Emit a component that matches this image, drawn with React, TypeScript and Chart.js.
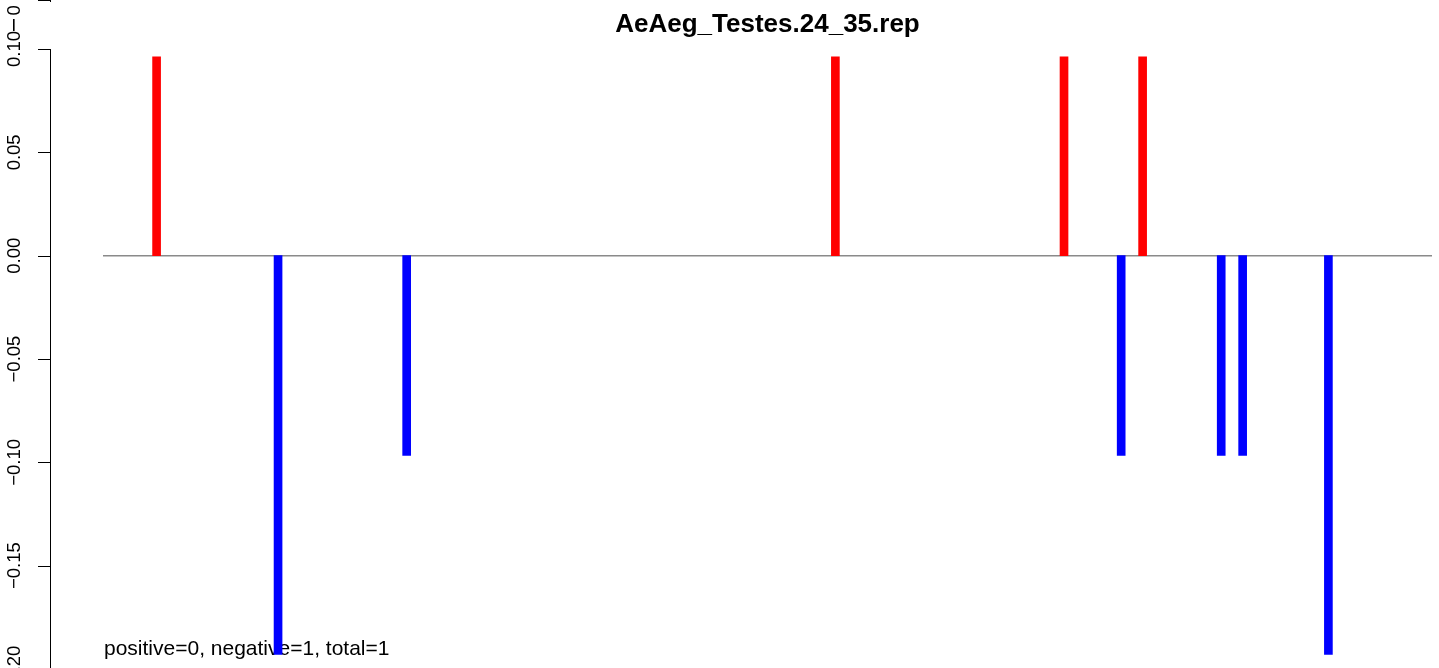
import React, { useEffect, useRef } from "react";
import { Chart, registerables } from "chart.js";

Chart.register(...registerables);

const TITLE = "AeAeg_Testes.24_35.rep";
const NOTE = "positive=0, negative=1, total=1";
const positions = [8, 25, 43, 103, 135, 143, 146, 157, 160, 172];
const values = [0.0962, -0.1929, -0.0966, 0.0962, 0.0962, -0.0966, 0.0962, -0.0966, -0.0966, -0.1929];
const yTicks = [0.1, 0.05, 0, -0.05, -0.1, -0.15, -0.2];
const yTickLabels = ["0.10", "0.05", "0.00", "\u22120.05", "\u22120.10", "\u22120.15", "\u22120.20"];

const FONT = "'Liberation Sans', Arial, Helvetica, sans-serif";

const decorPlugin = {
  id: "decor",
  beforeDatasetsDraw(chart: any) {
    const ctx = chart.ctx;
    const area = chart.chartArea;
    const y = chart.scales.y;
    const y0 = y.getPixelForValue(0);
    ctx.save();
    ctx.strokeStyle = "#8a8a8a";
    ctx.lineWidth = 1.5;
    ctx.beginPath();
    ctx.moveTo(area.left, y0);
    ctx.lineTo(area.right, y0);
    ctx.stroke();
    ctx.fillStyle = "#000";
    ctx.font = `21px ${FONT}`;
    ctx.textAlign = "left";
    ctx.textBaseline = "alphabetic";
    ctx.fillText(NOTE, 104, 655);
    ctx.restore();
  },
  afterDraw(chart: any) {
    const ctx = chart.ctx;
    const area = chart.chartArea;
    const y = chart.scales.y;
    ctx.save();
    ctx.fillStyle = "#000";
    ctx.font = `bold 26px ${FONT}`;
    ctx.textAlign = "center";
    ctx.textBaseline = "alphabetic";
    ctx.fillText(TITLE, (area.left + area.right) / 2, 32);

    const axX = 50.5;
    const top = y.getPixelForValue(yTicks[0]);
    const bot = y.getPixelForValue(yTicks[yTicks.length - 1]);
    ctx.strokeStyle = "#000";
    ctx.lineWidth = 1;
    ctx.beginPath();
    ctx.moveTo(axX, top);
    ctx.lineTo(axX, bot);
    yTicks.forEach((v) => {
      const p = Math.round(y.getPixelForValue(v)) + 0.5;
      ctx.moveTo(38, p);
      ctx.lineTo(axX, p);
    });
    ctx.moveTo(38, 0.5);
    ctx.lineTo(axX, 0.5);
    ctx.moveTo(axX, 0);
    ctx.lineTo(axX, 2);
    ctx.stroke();

    ctx.font = `18.5px ${FONT}`;
    ctx.textBaseline = "alphabetic";
    yTicks.forEach((v, i) => {
      const p = y.getPixelForValue(v);
      ctx.save();
      ctx.translate(20, p);
      ctx.rotate(-Math.PI / 2);
      ctx.textAlign = "center";
      ctx.fillText(yTickLabels[i], 0, 0);
      ctx.restore();
    });
    // clipped label of the panel above: "−0…"
    ctx.save();
    ctx.translate(20, 15.5);
    ctx.rotate(-Math.PI / 2);
    ctx.textAlign = "left";
    ctx.fillText("0", 0, 0);
    ctx.restore();
    ctx.fillRect(13, 19, 1.6, 12);
    ctx.restore();
  },
};

export default function App() {
  const ref = useRef<HTMLCanvasElement | null>(null);
  useEffect(() => {
    document.body.style.margin = "0";
    const canvas = ref.current;
    if (!canvas) return;
    const chart = new Chart(canvas, {
      type: "bar",
      data: {
        datasets: [
          {
            data: positions.map((p, i) => ({ x: p, y: values[i] })),
            backgroundColor: values.map((v) => (v >= 0 ? "#ff0000" : "#0000ff")),
            borderWidth: 0,
            barThickness: 8,
          } as any,
        ],
      },
      options: {
        responsive: false,
        animation: false,
        events: [],
        layout: { padding: { left: 103, right: 7, top: 48, bottom: 0 } },
        plugins: { legend: { display: false }, title: { display: false }, tooltip: { enabled: false } },
        scales: {
          x: { type: "linear", min: 0.5, max: 186.5, display: false, offset: false },
          y: { type: "linear", min: -0.1995, max: 0.1005, display: false },
        },
      },
      plugins: [decorPlugin],
    });
    return () => chart.destroy();
  }, []);
  return (
    <div style={{ width: 1439, height: 668, background: "#fff" }}>
      <canvas ref={ref} width={1439} height={668} style={{ display: "block" }} />
    </div>
  );
}
